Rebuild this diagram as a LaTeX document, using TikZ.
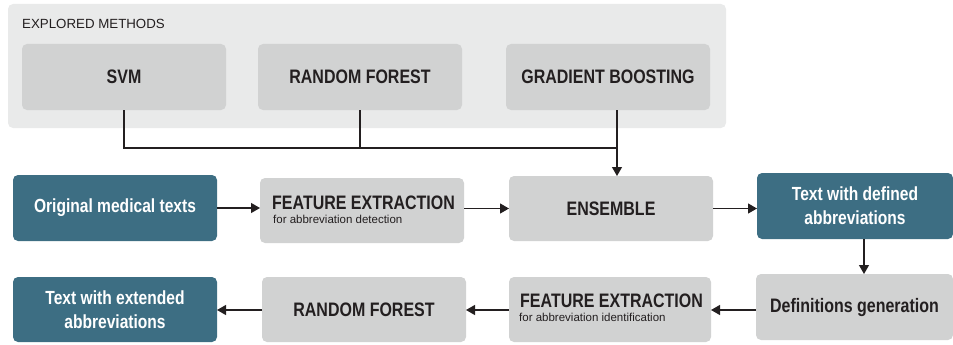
\documentclass[tikz,border=0pt]{standalone}
\usepackage{fontspec}
\setmainfont{Liberation Sans}
\newfontfamily\narrowfont[FakeStretch=0.82]{Liberation Sans}
\usetikzlibrary{arrows.meta,positioning}
\definecolor{panel}{HTML}{E9EAEA}
\definecolor{boxgrey}{HTML}{D1D2D2}
\definecolor{teal}{HTML}{3D6E83}
\definecolor{ink}{HTML}{231F20}
\tikzset{
  base/.style={rounded corners=5pt, inner sep=0pt, outer sep=0pt, anchor=north west, align=center},
  greybox/.style={base, fill=boxgrey, text=ink, font=\narrowfont\bfseries\fontsize{19.5}{21}\selectfont},
  tealbox/.style={base, fill=teal, text=white, font=\narrowfont\bfseries\fontsize{19}{24}\selectfont},
  conn/.style={draw=ink, line width=1.2pt},
  arr/.style={conn, -{Triangle[length=9pt,width=10pt]}},
  sub/.style={font=\fontsize{11.5}{13}\selectfont\mdseries},
}
\begin{document}
\begin{tikzpicture}[x=1pt,y=-1pt]
\useasboundingbox (0,0) rectangle (953,345);
% panel
\node[base, fill=panel, minimum width=718pt, minimum height=124pt] (panel) at (8,4) {};
\node[anchor=west, inner sep=0pt, text=ink, font=\fontsize{13.3}{15}\selectfont] (title) at (22,24) {EXPLORED METHODS};
% methods
\node[greybox, minimum width=204pt, minimum height=66pt] (svm) at (22,44) {SVM};
\node[greybox, minimum width=204pt, minimum height=66pt] (rf1) at (258,44) {RANDOM FOREST};
\node[greybox, minimum width=204pt, minimum height=66pt] (gb) at (506,44) {GRADIENT BOOSTING};
% row 2
\node[tealbox, minimum width=204pt, minimum height=66pt] (omt) at (13,175) {Original medical texts};
\node[greybox, minimum width=204pt, minimum height=65pt] (fe1) at (260,178) {};
\node[anchor=north west, inner sep=0pt, text=ink, align=left, font=\narrowfont\bfseries\fontsize{19.5}{21}\selectfont] (fe1t) at (272,196) {FEATURE EXTRACTION};
\node[anchor=north west, inner sep=0pt, text=ink, sub] (fe1s) at (273,215) {for abbreviation detection};
\node[greybox, minimum width=204pt, minimum height=65pt] (ens) at (509,176) {ENSEMBLE};
\node[tealbox, minimum width=196pt, minimum height=66pt] (twd) at (757,173) {Text with defined\\abbreviations};
% row 3
\node[tealbox, minimum width=204pt, minimum height=65pt] (twe) at (13,277) {Text with extended\\abbreviations};
\node[greybox, minimum width=204pt, minimum height=65pt] (rf2) at (262,277) {RANDOM FOREST};
\node[greybox, minimum width=202pt, minimum height=65pt] (fe2) at (509,277) {};
\node[anchor=north west, inner sep=0pt, text=ink, align=left, font=\narrowfont\bfseries\fontsize{19.5}{21}\selectfont] (fe2t) at (520,294) {FEATURE EXTRACTION};
\node[anchor=north west, inner sep=0pt, text=ink, sub] (fe2s) at (519,313) {for abbreviation identification};
\node[greybox, minimum width=197pt, minimum height=66pt] (def) at (756,274) {Definitions generation};
% connectors
\coordinate (j1) at (124,148);
\coordinate (j2) at (359,148);
\coordinate (j3) at (617,148);
\draw[conn] (svm.south) -- (svm.south |- j1) -- (j3);
\draw[conn] (rf1.south) -- (rf1.south |- j2);
\draw[arr] (j3 |- gb.south) -- (j3 |- ens.north);
\draw[arr] (omt.east) -- (omt.east -| fe1.west);
\draw[arr] (fe1.east |- ens.west) -- (ens.west);
\draw[arr] (ens.east) -- (ens.east -| twd.west);
\draw[arr] (twd.south -| 864,0) -- (864,274);
\draw[arr] (def.west |- 0,310) -- (fe2.east |- 0,310);
\draw[arr] (fe2.west |- 0,310) -- (rf2.east |- 0,310);
\draw[arr] (rf2.west |- 0,310) -- (twe.east |- 0,310);
\end{tikzpicture}
\end{document}
